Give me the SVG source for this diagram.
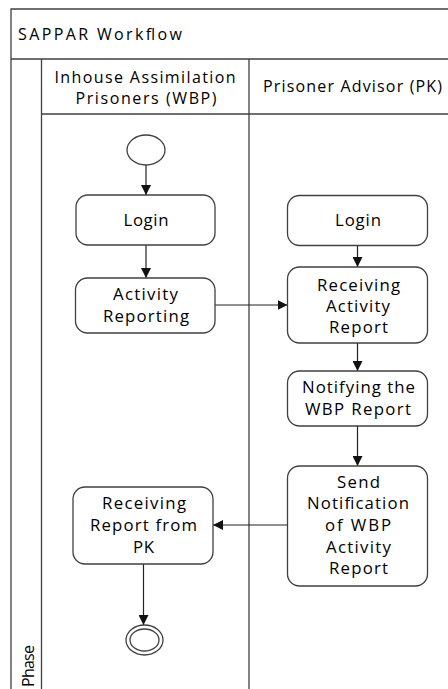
<svg xmlns="http://www.w3.org/2000/svg" width="448" height="689" viewBox="0 0 448 689">
<style>
.frame{fill:none;stroke:#404040;stroke-width:1.3}
.node{fill:#fff;stroke:#404040;stroke-width:1.3}
.t{font-family:"Open Sans","Liberation Sans",sans-serif;font-size:16.8px;fill:#000;text-anchor:middle}
.h{font-family:"Open Sans","Liberation Sans",sans-serif;font-size:16px;fill:#000}
.c{fill:none;stroke:#222;stroke-width:1.2}
</style>
<defs>
<marker id="ah" viewBox="0 0 10 10" refX="10" refY="5" markerWidth="10" markerHeight="10" markerUnits="userSpaceOnUse" orient="auto">
<path d="M0,0 L10,5 L0,10 z" fill="#111"/>
</marker>
</defs>
<g id="pool">
<rect x="0" y="0" width="448" height="689" fill="#fff"/>
<path class="frame" d="M11,689 V9 H448 M11,59 H448 M41.5,59 V689 M41.5,114 H448 M249,59 V689"/>
<text class="h" x="18" y="40" textLength="164">SAPPAR Workflow</text>
<text class="h" x="145" y="83" text-anchor="middle" textLength="181">Inhouse Assimilation</text>
<text class="h" x="146" y="104" text-anchor="middle" textLength="141">Prisoners (WBP)</text>
<text class="h" x="263" y="92" textLength="179">Prisoner Advisor (PK)</text>
<text class="h" transform="translate(34,687) rotate(-90)" textLength="42">Phase</text>
</g>
<g id="connectors">
<line class="c" x1="146" y1="165" x2="146" y2="195" marker-end="url(#ah)"/>
<line class="c" x1="146" y1="245" x2="146" y2="278" marker-end="url(#ah)"/>
<line class="c" x1="215" y1="305" x2="287.5" y2="305" marker-end="url(#ah)"/>
<line class="c" x1="357.5" y1="245.5" x2="357.5" y2="267" marker-end="url(#ah)"/>
<line class="c" x1="357.5" y1="343" x2="357.5" y2="371" marker-end="url(#ah)"/>
<line class="c" x1="357.5" y1="426" x2="357.5" y2="466" marker-end="url(#ah)"/>
<line class="c" x1="287.5" y1="525" x2="213" y2="525" marker-end="url(#ah)"/>
<line class="c" x1="143.5" y1="564" x2="143.5" y2="625" marker-end="url(#ah)"/>
</g>
<g id="start">
<ellipse class="node" cx="146" cy="150" rx="19" ry="15"/>
</g>
<g id="login-wbp">
<rect class="node" x="76" y="195" width="139" height="50" rx="12"/>
<text class="t" x="146" y="226" textLength="45">Login</text>
</g>
<g id="activity-reporting">
<rect class="node" x="75.5" y="278" width="139.5" height="55" rx="12"/>
<text class="t" x="145.5" y="300" textLength="65">Activity</text>
<text class="t" x="146" y="322" textLength="86">Reporting</text>
</g>
<g id="login-pk">
<rect class="node" x="287.5" y="195.5" width="140" height="50" rx="12"/>
<text class="t" x="358" y="226" textLength="46">Login</text>
</g>
<g id="receiving-activity-report">
<rect class="node" x="287.5" y="267" width="140" height="76" rx="12"/>
<text class="t" x="358.5" y="291" textLength="83">Receiving</text>
<text class="t" x="358" y="312" textLength="64">Activity</text>
<text class="t" x="358.5" y="333" textLength="59">Report</text>
</g>
<g id="notifying">
<rect class="node" x="287.5" y="371" width="140" height="55" rx="12"/>
<text class="t" x="358.5" y="393" textLength="113">Notifying the</text>
<text class="t" x="358" y="415" textLength="106">WBP Report</text>
</g>
<g id="send-notification">
<rect class="node" x="287.5" y="466" width="140" height="120" rx="12"/>
<text class="t" x="358.5" y="488" textLength="43">Send</text>
<text class="t" x="358" y="509" textLength="102">Notification</text>
<text class="t" x="358" y="531" textLength="66">of WBP</text>
<text class="t" x="358.5" y="553" textLength="65">Activity</text>
<text class="t" x="358.5" y="574" textLength="59">Report</text>
</g>
<g id="receiving-report-pk">
<rect class="node" x="73" y="487" width="140" height="77" rx="12"/>
<text class="t" x="144" y="509" textLength="84">Receiving</text>
<text class="t" x="143.5" y="531" textLength="107">Report from</text>
<text class="t" x="143.5" y="553" textLength="21">PK</text>
</g>
<g id="end">
<ellipse class="node" cx="144.5" cy="640" rx="18.5" ry="15"/>
<ellipse class="node" cx="144.5" cy="640" rx="14.5" ry="11"/>
</g>
</svg>
